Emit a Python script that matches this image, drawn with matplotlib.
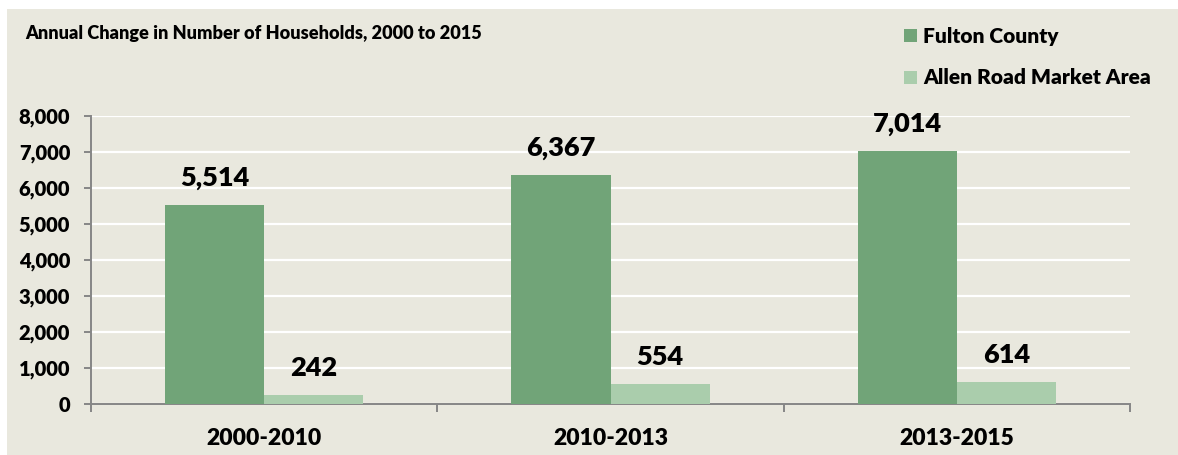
import matplotlib
matplotlib.use("Agg")
import matplotlib.pyplot as plt
from matplotlib.patches import Rectangle
from matplotlib.ticker import FuncFormatter, FixedLocator
import numpy as np

periods = ["2000-2010", "2010-2013", "2013-2015"]
fulton = [5514, 6367, 7014]
allen_road = [242, 554, 614]
series_names = ["Fulton County", "Allen Road Market Area"]
series_colors = ["#71A478", "#AACDAC"]
title = "Annual Change in Number of Households, 2000 to 2015"

WEIGHT = "heavy"
plt.rcParams["font.family"] = ["Lato", "DejaVu Sans"]
plt.rcParams["font.weight"] = WEIGHT

W, H = 1178, 455
fig = plt.figure(figsize=(W / 100, H / 100), dpi=100, facecolor="white")

# chart-area panel
bg = "#E9E8DE"
fig.patches.append(Rectangle((7 / W, 0), 1 - 7 / W, 1 - 9 / H, transform=fig.transFigure,
                             facecolor=bg, edgecolor="none", zorder=-10))

ax = fig.add_axes([91 / W, 1 - 404 / H, (1130 - 91) / W, (404 - 116) / H])
ax.set_zorder(5)
ax.patch.set_alpha(0)

x = np.arange(len(periods))
bw = 0.286
bars1 = ax.bar(x - bw / 2, fulton, width=bw, color=series_colors[0], zorder=3)
bars2 = ax.bar(x + bw / 2, allen_road, width=bw, color=series_colors[1], zorder=3)

for bars, vals in ((bars1, fulton), (bars2, allen_road)):
    for b, v in zip(bars, vals):
        ax.annotate(f"{v:,}", (b.get_x() + b.get_width() / 2, v), xytext=(0, 19.5),
                    textcoords="offset points", ha="center", va="center",
                    fontsize=19.5, fontweight=WEIGHT, color="black", zorder=4)

ax.set_xlim(-0.5, 2.5)
ax.set_ylim(0, 8000)
ax.yaxis.set_major_locator(FixedLocator(np.arange(0, 8001, 1000)))
ax.yaxis.set_major_formatter(FuncFormatter(lambda v, p: f"{int(v):,}"))
ax.grid(axis="y", color="white", linewidth=1.6, zorder=1)
ax.set_axisbelow(True)

for s in ("top", "right"):
    ax.spines[s].set_visible(False)
for s in ("left", "bottom"):
    ax.spines[s].set_color("#868686")
    ax.spines[s].set_linewidth(1.4)

ax.tick_params(axis="y", length=5, width=1.4, color="#868686", labelsize=14.5, pad=10)
ax.set_xticks([-0.5, 0.5, 1.5, 2.5])
ax.set_xticklabels([])
ax.tick_params(axis="x", length=6, width=1.4, color="#868686")
for i, p in enumerate(periods):
    ax.text(i, -0.12, p, transform=ax.get_xaxis_transform(), ha="center", va="center",
            fontsize=16.5, fontweight=WEIGHT)
for lab in ax.get_yticklabels():
    lab.set_fontweight(WEIGHT)

fig.text(25 / W, 1 - 33 / H, title, ha="left", va="center", fontsize=13.1, fontweight=WEIGHT)

# legend entries
for i, (name, col) in enumerate(zip(series_names, series_colors)):
    yc = 1 - (36 + 41 * i) / H
    fig.patches.append(Rectangle((904 / W, yc - 6.5 / H), 13 / W, 13 / H, transform=fig.transFigure,
                                 facecolor=col, edgecolor="none"))
    fig.text(923 / W, yc, name, ha="left", va="center", fontsize=15, fontweight=WEIGHT)

fig.savefig("out.png", dpi=100, facecolor="white")
